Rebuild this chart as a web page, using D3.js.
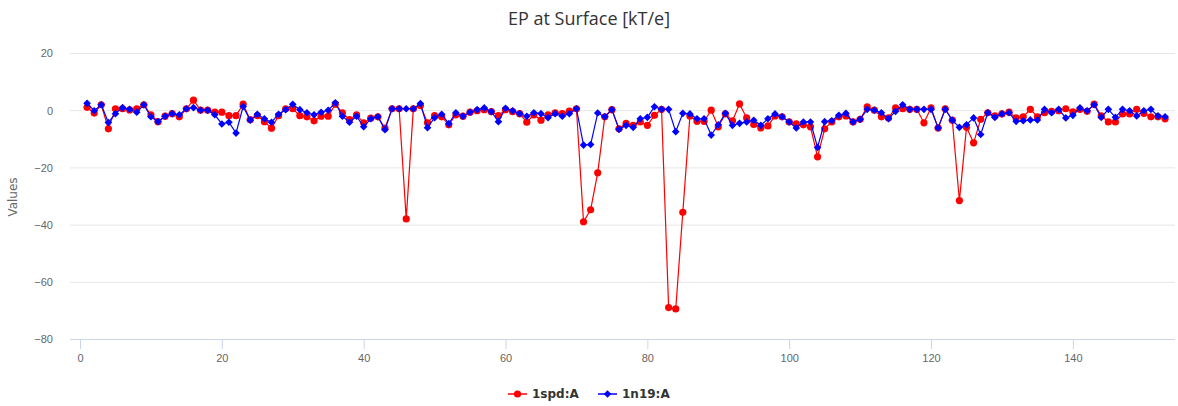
<!DOCTYPE html>
<html><head><meta charset="utf-8">
<script src="https://cdn.jsdelivr.net/npm/d3@7"></script>
<style>body{margin:0;background:#fff;}svg{display:block;font-family:"DejaVu Sans",Verdana,sans-serif;}</style>
</head><body>
<svg id="chart" width="1178" height="406"></svg>
<script>
const title = "EP at Surface [kT/e]";
const yAxisTitle = "Values";
const seriesNames = ["1spd:A", "1n19:A"];
const xTicks = [0, 20, 40, 60, 80, 100, 120, 140];
const yTicks = [-80, -60, -40, -20, 0, 20];
const redValues = [1.0,-1.0,1.9,-6.5,0.5,0.5,0.1,0.5,1.9,-1.6,-4.0,-2.1,-1.2,-2.3,0.5,3.5,0,0,-0.7,-0.7,
-1.9,-1.9,2.1,-3.3,-1.9,-4.0,-6.3,-1.9,0.5,0.5,-1.9,-2.3,-3.7,-2.1,-2.1,2.1,-0.9,-3.3,-1.6,-4.4,
-2.8,-2.3,-6.3,0.5,0.5,-38,0.5,1.6,-4.4,-1.9,-2.3,-5.1,-1.6,-2.1,-0.7,-0.2,0.2,-0.5,-1.9,0.2,
-0.5,-1.2,-4.2,-1.6,-3.5,-1.6,-0.9,-1.2,-0.3,0.5,-39,-34.8,-21.9,-2.3,0.2,-6.5,-4.6,-5.3,-4.1,-5.3,
-1.8,0.3,-69,-69.5,-35.7,-2,-3.9,-3.9,0,-5.8,-1.3,-3.7,2.2,-2.7,-5,-6.2,-5.5,-2.0,-2.3,-4.1,
-4.8,-5.1,-5.8,-16.3,-6.5,-4.1,-2.3,-2.0,-4.1,-3.2,1.2,0,-2.3,-2.7,0.8,0.5,0.3,0.3,-4.4,0.8,
-6.2,0.5,-3.5,-31.6,-6,-11.4,-3.2,-0.9,-2,-1.3,-0.7,-2.7,-2.3,0.3,-2.3,-0.9,-0.4,-0.2,0.5,-0.6,
0.3,-0.4,2.1,-2,-4.1,-4.1,-1.3,-1.3,0.3,-1.1,-2.3,-2.3,-3];
const blueValues = [2.4,-0.2,1.9,-4.3,-1.2,0.9,0.3,-0.7,1.9,-2.3,-4.0,-2.1,-1.2,-1.6,0.5,0.9,0,0,-1.6,-4.8,
-4.2,-8,1.3,-3.5,-1.4,-3.0,-4.2,-1.4,0.2,2.1,0.2,-0.9,-1.6,-0.7,0,2.6,-2.1,-4.2,-2.1,-5.8,
-3.0,-2.3,-6.8,0.5,0.5,0.5,0.5,2.3,-6.1,-2.6,-1.4,-4.7,-0.9,-2.1,-0.7,0.2,0.8,-0.5,-4.0,0.7,
-0.2,-1.2,-2.1,-0.9,-1.2,-2.6,-1.2,-2.1,-1.2,0.5,-12.2,-12,-1,-2.3,0.2,-6.7,-5.3,-6,-3,-2.5,
1.2,0.3,0.3,-7.5,-1.1,-1.3,-3.0,-3.0,-8.7,-5.1,-1.1,-5.3,-4.6,-4.1,-3.5,-5.3,-3,-1.3,-2.3,-4.1,
-6.2,-4.1,-4.1,-13,-4,-3.7,-1.8,-1.1,-4.1,-3.2,0.3,0,-0.9,-3,-0.4,1.9,0.3,0.3,0.3,0.3,
-6.2,0.3,-3.5,-6,-5.1,-2.7,-8.5,-0.9,-2.5,-1.3,-0.9,-3.9,-3.7,-3.4,-3.4,0.3,-0.9,0.3,-2.7,-1.8,
0.8,-0.2,1.9,-2.5,0.3,-2.5,0.3,-0.2,-2,-0.2,0.3,-2,-2.3];

const svg = d3.select("#chart");
const L = 70, R = 1175, T = 53, B = 339;
const x = d3.scaleLinear().domain([-1.41, 154.4]).range([L, R]);
const y = d3.scaleLinear().domain([-80, 20]).range([B, T]);

// title
svg.append("text").attr("x", 589).attr("y", 25).attr("text-anchor", "middle")
  .style("font-family", "'Open Sans','Liberation Sans',sans-serif").style("font-size", "18px").attr("fill", "#333").text(title);

// grid
const yAxis = d3.axisLeft(y).tickValues(yTicks).tickSize(-(R - L)).tickFormat(d => d < 0 ? "\u2212" + Math.abs(d) : d);
const gy = svg.append("g").attr("transform", `translate(${L},0)`).call(yAxis);
gy.select(".domain").remove();
gy.selectAll(".tick line").attr("stroke", "#e6e6e6");
gy.selectAll(".tick text").attr("x", -17).attr("fill", "#666").style("font-size", "11px").attr("dy", "0.35em");

svg.append("text").attr("transform", "translate(17,197) rotate(-90)").attr("text-anchor", "middle")
  .attr("fill", "#666").style("font-size", "12px").text(yAxisTitle);

const xAxis = d3.axisBottom(x).tickValues(xTicks).tickSize(10).tickPadding(5);
const gx = svg.append("g").attr("transform", `translate(0,${B})`).call(xAxis);
gx.select(".domain").attr("stroke", "#ccd6eb").attr("d", `M${L},0.5H${R}`);
gx.selectAll(".tick line").attr("stroke", "#ccd6eb");
gx.selectAll(".tick text").attr("fill", "#666").style("font-size", "11px");

const series = [
  {name: seriesNames[0], values: redValues, color: "#ff0000", marker: "circle"},
  {name: seriesNames[1], values: blueValues, color: "#0000ff", marker: "diamond"}
];
const line = d3.line().x((d, i) => x(i + 1)).y(d => y(d));
series.forEach(s => {
  const g = svg.append("g");
  g.append("path").datum(s.values).attr("d", line).attr("fill", "none").attr("stroke", s.color).attr("stroke-width", 1.2);
  if (s.marker === "circle") {
    g.selectAll("circle").data(s.values).join("circle").attr("cx", (d, i) => x(i + 1)).attr("cy", d => y(d)).attr("r", 3.6).attr("fill", s.color);
  } else {
    g.selectAll("path.m").data(s.values).join("path").attr("class", "m")
      .attr("d", (d, i) => { const cx = x(i + 1), cy = y(d), r = 3.8; return `M${cx},${cy - r}L${cx + r},${cy}L${cx},${cy + r}L${cx - r},${cy}Z`; })
      .attr("fill", s.color);
  }
});

// legend
const leg = [{x: 508, s: series[0]}, {x: 598, s: series[1]}];
leg.forEach(l => {
  const g = svg.append("g").attr("transform", `translate(${l.x},394)`);
  g.append("line").attr("x1", 0).attr("x2", 19).attr("stroke", l.s.color).attr("stroke-width", 1.5);
  if (l.s.marker === "circle") g.append("circle").attr("cx", 9.5).attr("r", 3.6).attr("fill", l.s.color);
  else g.append("path").attr("d", "M9.5,-3.8L13.3,0L9.5,3.8L5.7,0Z").attr("fill", l.s.color);
  g.append("text").attr("x", 24).attr("dy", "0.35em").attr("fill", "#333").style("font-size", "12px").style("font-weight", "bold").text(l.s.name);
});
</script>
</body></html>
